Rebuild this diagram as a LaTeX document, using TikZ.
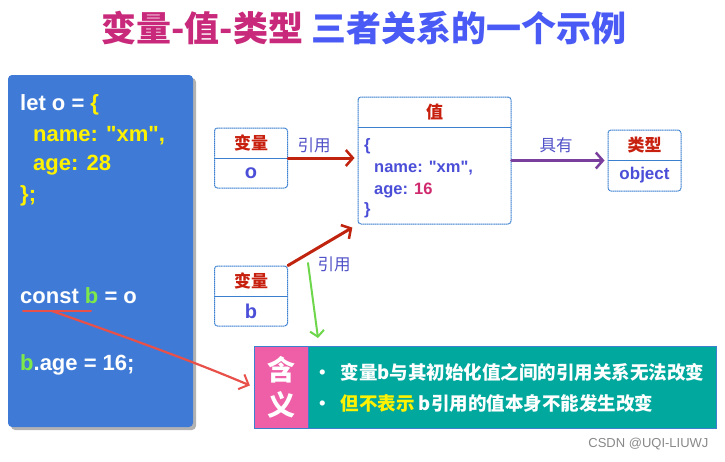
\documentclass[tikz,border=0pt]{standalone}
\usepackage{fontspec}
\setmainfont{Liberation Sans}[Ligatures=TeXOff]
\newfontfamily\cjk{Noto Sans CJK SC}
\usetikzlibrary{arrows.meta}
\definecolor{titlemag}{HTML}{C8297A}
\definecolor{titleblue}{HTML}{4A5AF5}
\definecolor{codebox}{HTML}{3F7BD6}
\definecolor{codeyel}{HTML}{FFF200}
\definecolor{codegreen}{HTML}{7EE84A}
\definecolor{boxblue}{HTML}{3A7FD0}
\definecolor{hdrred}{HTML}{C8200E}
\definecolor{valblue}{HTML}{4B4FD8}
\definecolor{agemag}{HTML}{D02A6E}
\definecolor{refred}{HTML}{C0230E}
\definecolor{lblblue}{HTML}{5050C8}
\definecolor{haspurple}{HTML}{7A3E9D}
\definecolor{grn}{HTML}{6DD64A}
\definecolor{penred}{HTML}{E8504A}
\definecolor{teal}{HTML}{00A89D}
\definecolor{pink}{HTML}{EE5FA7}
\definecolor{mark}{HTML}{888888}
\tikzset{
  vbox/.style={draw=boxblue, rounded corners=3pt, line width=1pt, dash pattern=on 1.4pt off 0.5pt, fill=white, inner sep=0pt},
  hdr/.style={font=\cjk\bfseries\fontsize{17}{20}\selectfont, text=hdrred},
  vtxt/.style={font=\bfseries\fontsize{20}{24}\selectfont, text=valblue},
  code/.style={anchor=base west, font=\bfseries\fontsize{22}{26}\selectfont, text=white, inner sep=0pt},
  vcode/.style={anchor=base west, font=\bfseries\fontsize{16.5}{20}\selectfont, text=valblue, inner sep=0pt},
  lbl/.style={font=\cjk\fontsize{16.5}{20}\selectfont, text=lblblue},
  refarrow/.style={draw=refred, line width=3pt, line cap=round, -{Straight Barb[length=7pt,width=16pt,line width=2.5pt]}},
  bul/.style={anchor=west, font=\cjk\bfseries\fontsize{18.5}{22}\selectfont, text=white, inner sep=0pt}
}
\begin{document}
\begin{tikzpicture}[x=1pt,y=-1pt]
\useasboundingbox (0,0) rectangle (725,461);
% title
\node (title) at (364,28) {\cjk\bfseries\fontsize{35}{40}\selectfont\textcolor{titlemag}{变量-值-类型}\ \textcolor{titleblue}{三者关系的一个示例}};
% code box
\fill[black!30, rounded corners=4pt] (11,78) rectangle (196,430);
\node[fill=codebox, rounded corners=4pt, minimum width=185pt, minimum height=352pt, inner sep=0pt] (codebg) at (100.5,251) {};
\node[code] (c1) at (20,110) {let o = \textcolor{codeyel}{\{}};
\node[code, text=codeyel] (c2) at (33,141) {name: "xm",};
\node[code, text=codeyel] (c3) at (33,170) {age: 28};
\node[code, text=codeyel] (c4) at (20,201) {\};};
\node[code] (c5) at (20,303) {const \textcolor{codegreen}{b} = o};
\node[code] (c6) at (20,370) {\textcolor{codegreen}{b}.age = 16;};
% variable o
\node[vbox, minimum width=73pt, minimum height=60pt] (vo) at (251,158) {};
\draw[boxblue, line width=1pt] (vo.west) -- (vo.east);
\node[hdr] (voh) at (251,143) {变量};
\node[vtxt] (vov) at (251,173) {o};
% variable b
\node[vbox, minimum width=73pt, minimum height=60pt] (vb) at (251,296) {};
\draw[boxblue, line width=1pt] (vb.west) -- (vb.east);
\node[hdr] (vbh) at (251,281) {变量};
\node[vtxt] (vbv) at (251,311) {b};
% value box
\node[vbox, minimum width=153pt, minimum height=127pt] (val) at (434.5,160.5) {};
\draw[boxblue, line width=1pt] (358,127) -- (511,127);
\node[hdr] (valh) at (434.5,112) {值};
\node[vcode] (v1) at (364,150) {\{};
\node[vcode] (v2) at (374,172) {name: "xm",};
\node[vcode] (v3) at (374,194) {age: \textcolor{agemag}{16}};
\node[vcode] (v4) at (364,214) {\}};
% type box
\node[vbox, minimum width=73pt, minimum height=61pt] (typ) at (644.5,160.5) {};
\draw[boxblue, line width=1pt] (typ.west) -- (typ.east);
\node[hdr] (typh) at (644.5,145) {类型};
\node[vtxt, font=\bfseries\fontsize{17}{20}\selectfont] (typv) at (644.5,175) {object};
% arrows
\draw[refarrow, shorten >=3pt] (vo.east) -- (val.west |- vo.east);
\node[lbl] (l1) at (314,145) {引用};
\draw[refarrow, shorten >=6pt] (vb.north east) -- (val.south west);
\node[lbl] (l2) at (334,264) {引用};
\draw[draw=haspurple, line width=3pt, line cap=round, -{Straight Barb[length=7pt,width=16pt,line width=2.5pt]}, shorten >=3pt] (val.east) -- (typ.west);
\node[lbl] (l3) at (556,145) {具有};
\coordinate (g1) at (308,263);
\coordinate (g2) at (318,338);
\draw[grn, line width=2pt, line cap=round, -{Straight Barb[length=6pt,width=14pt,line width=2pt]}] (g1) -- (g2);
% meaning box
\node[fill=teal, draw=boxblue, line width=0.8pt, minimum width=462pt, minimum height=82pt, inner sep=0pt] (mean) at (485,387) {};
\node[fill=pink, draw=boxblue, line width=0.8pt, minimum width=54pt, minimum height=82pt, inner sep=0pt] (han) at (281,387) {};
\node[font=\cjk\bfseries\fontsize{28}{32}\selectfont, text=white] (h1) at (281,370) {含};
\node[font=\cjk\bfseries\fontsize{28}{32}\selectfont, text=white] (h2) at (281,405) {义};
\node[bul] (b1) at (313,372) {•\hspace{9pt}变量b与其初始化值之间的引用关系无法改变};
\node[bul] (b2) at (313,403) {•\hspace{9pt}\textcolor{codeyel}{但不表示} b引用的值本身不能发生改变};
% pen annotation
\coordinate (u1) at (23,311);
\coordinate (u2) at (91,311);
\coordinate (u3) at (52,311);
\draw[penred, line width=2pt, line cap=round] (u1) -- (u2);
\draw[penred, line width=2.2pt, line cap=round, -{Straight Barb[length=8pt,width=16pt,line width=2pt]}, shorten >=4pt] (u3) .. controls (120,335) and (190,360) .. (han.west);
% watermark
\node[text=mark, font=\fontsize{13}{15}\selectfont, anchor=east] (wm) at (712,444) {CSDN @UQI-LIUWJ};
\end{tikzpicture}
\end{document}
